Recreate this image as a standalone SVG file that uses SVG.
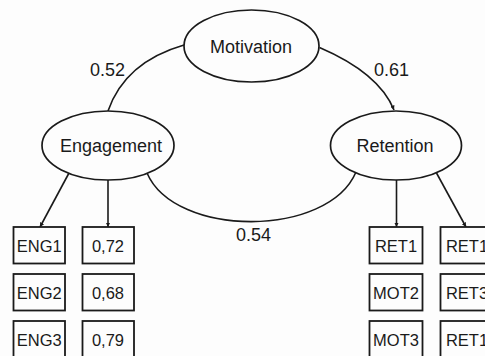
<svg xmlns="http://www.w3.org/2000/svg" width="485" height="356" viewBox="0 0 485 356">
<style>
.bg{fill:#fdfdfd}
.lat{fill:#fdfdfd;stroke:#1a1a1a;stroke-width:1.7}
.box{fill:#fdfdfd;stroke:#1a1a1a;stroke-width:1.8}
.lbl{font-family:"Liberation Sans",Arial,sans-serif;font-size:18px;fill:#1a1a1a;text-anchor:middle}
.bt{font-family:"Liberation Sans",Arial,sans-serif;font-size:16.5px;fill:#1a1a1a;text-anchor:middle}
.num{font-family:"Liberation Sans",Arial,sans-serif;font-size:18px;fill:#1a1a1a}
.ln{fill:none;stroke:#1a1a1a;stroke-width:1.6}
</style>
<defs>
<marker id="ah" viewBox="0 0 10 10" refX="10" refY="5" markerWidth="4.5" markerHeight="4.5" orient="auto" markerUnits="userSpaceOnUse">
<path d="M0,0 L10,5 L0,10 Z" fill="#1a1a1a"/>
</marker>
</defs>
<rect class="bg" x="0" y="0" width="485" height="356"/>
<g id="connectors">
<path class="ln" d="M184,45 Q125,62 108,111"/>
<path class="ln" d="M319.5,47.5 Q379,73 394,110" marker-end="url(#ah)"/>
<path class="ln" d="M147,173 C175,238 328,238 356,172"/>
<line class="ln" x1="69" y1="173" x2="40" y2="227" marker-end="url(#ah)"/>
<line class="ln" x1="108" y1="180" x2="108" y2="227" marker-end="url(#ah)"/>
<line class="ln" x1="396.5" y1="180" x2="396.5" y2="227" marker-end="url(#ah)"/>
<line class="ln" x1="436.5" y1="173" x2="466" y2="227" marker-end="url(#ah)"/>
<text class="num" x="90" y="76">0.52</text>
<text class="num" x="374" y="75.5">0.61</text>
<text class="num" x="236" y="241">0.54</text>
</g>
<g id="motivation">
<ellipse class="lat" cx="251.5" cy="46" rx="67.5" ry="36"/>
<text class="lbl" x="251" y="53">Motivation</text>
</g>
<g id="engagement">
<ellipse class="lat" cx="108" cy="145.5" rx="66" ry="34.5"/>
<text class="lbl" x="111" y="151.5">Engagement</text>
</g>
<g id="retention">
<ellipse class="lat" cx="396" cy="145.5" rx="65.5" ry="34.5"/>
<text class="lbl" x="395" y="151.5">Retention</text>
</g>
<g id="eng1"><rect class="box" x="13.5" y="227" width="51.5" height="36.5"/><text class="bt" x="39.3" y="252">ENG1</text></g>
<g id="eng2"><rect class="box" x="13.5" y="274" width="51.5" height="36.5"/><text class="bt" x="39.3" y="299">ENG2</text></g>
<g id="eng3"><rect class="box" x="13.5" y="321" width="51.5" height="36.5"/><text class="bt" x="39.3" y="346">ENG3</text></g>
<g id="v072"><rect class="box" x="82.5" y="227" width="51.5" height="36.5"/><text class="bt" x="108" y="252">0,72</text></g>
<g id="v068"><rect class="box" x="82.5" y="274" width="51.5" height="36.5"/><text class="bt" x="108" y="299">0,68</text></g>
<g id="v079"><rect class="box" x="82.5" y="321" width="51.5" height="36.5"/><text class="bt" x="108" y="346">0,79</text></g>
<g id="ret1a"><rect class="box" x="369.5" y="227" width="53" height="36.5"/><text class="bt" x="396" y="252">RET1</text></g>
<g id="mot2"><rect class="box" x="369.5" y="274" width="53" height="36.5"/><text class="bt" x="396" y="299">MOT2</text></g>
<g id="mot3"><rect class="box" x="369.5" y="321" width="53" height="36.5"/><text class="bt" x="396" y="346">MOT3</text></g>
<g id="ret1b"><rect class="box" x="440.5" y="227" width="53" height="36.5"/><text class="bt" x="467" y="252">RET1</text></g>
<g id="ret3"><rect class="box" x="440.5" y="274" width="53" height="36.5"/><text class="bt" x="467" y="299">RET3</text></g>
<g id="ret1c"><rect class="box" x="440.5" y="321" width="53" height="36.5"/><text class="bt" x="467" y="346">RET1</text></g>
</svg>
